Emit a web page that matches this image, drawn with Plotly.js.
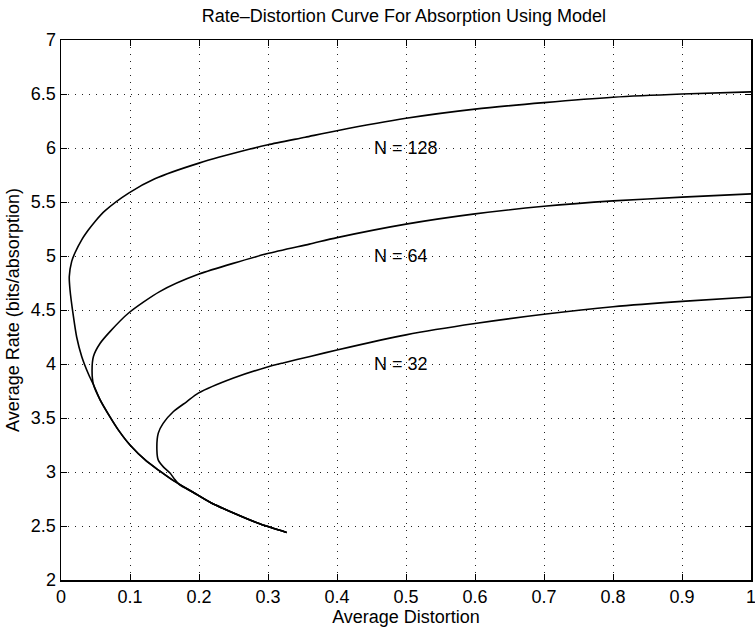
<!DOCTYPE html>
<html>
<head>
<meta charset="utf-8">
<script src="https://cdn.plot.ly/plotly-3.0.1.min.js"></script>
<style>
  html, body { margin: 0; padding: 0; background: #fff; }
  #chart { width: 755px; height: 630px; }
</style>
</head>
<body>
<div id="chart"></div>
<script>
// Average distortion / average rate along each rate-distortion curve,
// ordered from the low-rate end, around the turning point, out to D = 1.
const dist128 = [0.327, 0.288, 0.250, 0.216, 0.192, 0.163, 0.143, 0.124, 0.100, 0.083,
                 0.071, 0.0565, 0.047, 0.0396, 0.030, 0.0227, 0.018, 0.013, 0.012, 0.0155,
                 0.0203, 0.030, 0.0396, 0.050, 0.064, 0.0986, 0.136, 0.200, 0.274, 0.300,
                 0.354, 0.400, 0.500, 0.600, 0.700, 0.800, 0.900, 1.000];
const rate128 = [2.44, 2.52, 2.62, 2.72, 2.81, 2.92, 3.01, 3.10, 3.25, 3.39,
                 3.51, 3.67, 3.81, 3.91, 4.07, 4.25, 4.44, 4.69, 4.81, 4.95,
                 5.03, 5.15, 5.24, 5.325, 5.42, 5.585, 5.715, 5.86, 5.99, 6.03,
                 6.10, 6.16, 6.275, 6.36, 6.42, 6.47, 6.50, 6.52];

const dist64 = [0.327, 0.288, 0.250, 0.216, 0.192, 0.163, 0.143, 0.124, 0.100, 0.083,
                0.071, 0.0565, 0.047, 0.045, 0.047, 0.0565, 0.071, 0.0976, 0.143, 0.199,
                0.298, 0.360, 0.400, 0.500, 0.600, 0.700, 0.800, 0.900, 1.000];
const rate64 = [2.44, 2.52, 2.62, 2.72, 2.81, 2.92, 3.01, 3.10, 3.25, 3.39,
                3.51, 3.67, 3.81, 3.94, 4.07, 4.19, 4.30, 4.47, 4.67, 4.83,
                5.02, 5.11, 5.17, 5.295, 5.39, 5.46, 5.51, 5.545, 5.575];

const dist32 = [0.327, 0.288, 0.250, 0.216, 0.192, 0.172, 0.165, 0.158, 0.148, 0.141,
                0.139, 0.141, 0.148, 0.163, 0.182, 0.199, 0.250, 0.298, 0.322, 0.361,
                0.400, 0.500, 0.600, 0.700, 0.800, 0.900, 1.000];
const rate32 = [2.44, 2.52, 2.62, 2.72, 2.81, 2.88, 2.93, 2.99, 3.05, 3.11,
                3.20, 3.36, 3.45, 3.56, 3.65, 3.73, 3.87, 3.97, 4.01, 4.07,
                4.13, 4.27, 4.375, 4.46, 4.53, 4.58, 4.62];

// Curve labels and where they sit (distortion, rate)
const labelText = ['N = 128', 'N = 64', 'N = 32'];
const labelDist = [0.451, 0.451, 0.451];
const labelRate = [6.0, 5.0, 4.0];

// Axis ticks
const xTickVals = [0, 0.1, 0.2, 0.3, 0.4, 0.5, 0.6, 0.7, 0.8, 0.9, 1];
const xTickText = ['0', '0.1', '0.2', '0.3', '0.4', '0.5', '0.6', '0.7', '0.8', '0.9', '1'];
const yTickVals = [2, 2.5, 3, 3.5, 4, 4.5, 5, 5.5, 6, 6.5, 7];
const yTickText = ['2', '2.5', '3', '3.5', '4', '4.5', '5', '5.5', '6', '6.5', '7'];

const FONT = 'Liberation Sans, Arial, Helvetica, sans-serif';
const FS = 18;

function curve(x, y) {
  return {
    x: x, y: y, type: 'scatter', mode: 'lines',
    line: { color: '#000', width: 1.6, shape: 'spline', smoothing: 0.7 },
    hoverinfo: 'skip', showlegend: false
  };
}

const data = [curve(dist128, rate128), curve(dist64, rate64), curve(dist32, rate32)];

const axisCommon = {
  showline: true, linecolor: '#000', linewidth: 1.5, mirror: 'ticks',
  ticks: 'inside', ticklen: 6, tickwidth: 1, tickcolor: '#000',
  showgrid: true, gridcolor: '#222', gridwidth: 1, griddash: '1px,6px',
  zeroline: false, fixedrange: true, tickmode: 'array',
  ticklabeloverflow: 'allow',
  tickfont: { family: FONT, size: FS, color: '#000' }
};

const layout = {
  width: 755, height: 630,
  paper_bgcolor: '#fff', plot_bgcolor: '#fff',
  margin: { l: 61, r: 4, t: 40, b: 50 },
  font: { family: FONT, size: FS, color: '#000' },
  title: {
    text: 'Rate\u2013Distortion Curve For Absorption Using Model',
    font: { family: FONT, size: FS, color: '#000' },
    x: 0.497, xref: 'paper', xanchor: 'center',
    y: 0.975, yref: 'container', yanchor: 'middle'
  },
  xaxis: Object.assign({}, axisCommon, {
    range: [0, 1], tickvals: xTickVals, ticktext: xTickText,
    title: { text: 'Average Distortion', font: { family: FONT, size: FS, color: '#000' }, standoff: 2 }
  }),
  yaxis: Object.assign({}, axisCommon, {
    range: [2, 7], tickvals: yTickVals, ticktext: yTickText,
    title: { text: 'Average Rate (bits/absorption)', font: { family: FONT, size: FS, color: '#000' }, standoff: 6 }
  }),
  annotations: labelText.map((t, i) => ({
    text: t, x: labelDist[i], y: labelRate[i], xref: 'x', yref: 'y',
    xanchor: 'left', yanchor: 'middle', showarrow: false,
    font: { family: FONT, size: FS, color: '#000' }
  }))
};

Plotly.newPlot('chart', data, layout, { displayModeBar: false, staticPlot: true });
</script>
</body>
</html>
